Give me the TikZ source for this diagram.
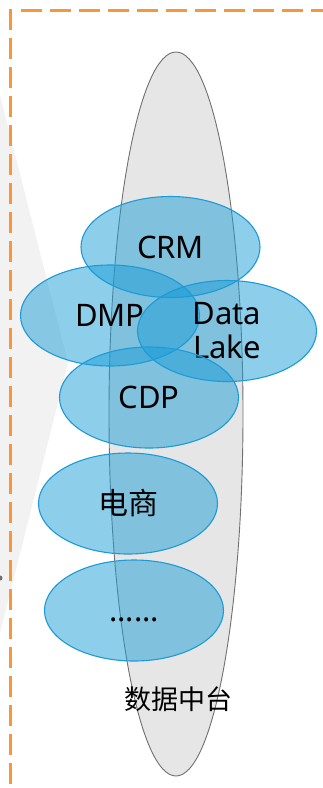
\documentclass[tikz,border=0pt]{standalone}
\usepackage{fontspec}
\setmainfont{Noto Sans}
\newfontfamily\cjk{Noto Sans CJK SC}
\usetikzlibrary{shapes.geometric}
\definecolor{dashorange}{HTML}{F7963A}
\definecolor{bluefill}{HTML}{1B9DD8}
\definecolor{bluedraw}{HTML}{1E9AD6}
\definecolor{basefill}{HTML}{E6E6E6}
\definecolor{basedraw}{HTML}{707070}
\definecolor{wedgegray}{HTML}{F2F2F2}
\tikzset{
  blob/.style={ellipse, inner sep=0pt, minimum width=179pt, minimum height=101pt,
    draw=bluedraw, line width=1.1pt, fill=bluefill, fill opacity=0.5, draw opacity=1,
    text opacity=1, font=\fontsize{31}{34}\selectfont, align=center},
  frameline/.style={draw=dashorange, line width=3pt, dash pattern=on 21pt off 8pt},
}
\begin{document}
\begin{tikzpicture}[x=1pt,y=-1pt]
\useasboundingbox (0,0) rectangle (322,788);
% faint background wedge
\fill[wedgegray] (0,95) -- (68,363) -- (0,633) -- cycle;
\fill[basedraw] (0,578) circle (2.5pt);
% orange dashed frame
\draw[frameline] (10.5,9) -- (10.5,800);
\draw[frameline] (21,10.5) -- (340,10.5);
% base ellipse
\node[ellipse, inner sep=0pt, minimum width=134pt, minimum height=724pt,
      draw=basedraw, line width=0.9pt, fill=basefill] (base) at (176,414) {};
% blue ellipses
\node[blob] (crm) at (170.5,247) {CRM};
\node[blob] (dmp) at (110,315.5) {DMP};
\node[blob] (lake) at (227,331) {Data\\Lake};
\node[blob] (cdp) at (149,397.5) {CDP};
\node[blob, font=\cjk\fontsize{30}{34}\selectfont] (ec) at (128,503.5) {电商};
\node[blob, text depth=0pt, text height=0pt] (more) at (134,610.5) {\raisebox{-11pt}{......}};
% label
\node[font=\cjk\fontsize{27}{30}\selectfont] (label) at (178,699) {数据中台};
\end{tikzpicture}
\end{document}
